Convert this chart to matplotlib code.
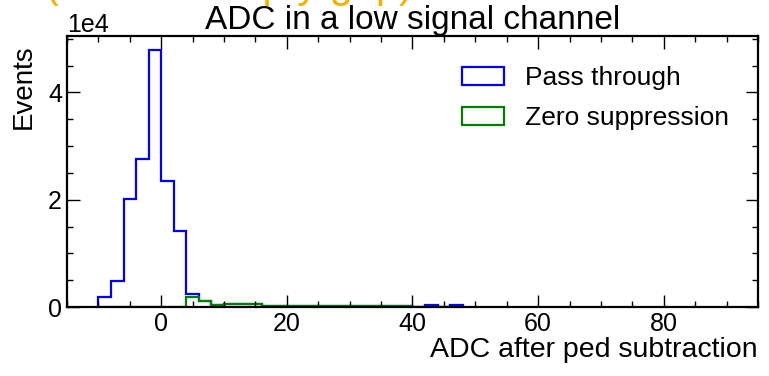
import numpy as np
import matplotlib
matplotlib.use('Agg')
import matplotlib.pyplot as plt
from matplotlib.ticker import MultipleLocator
from matplotlib.patches import Patch

plt.rcParams['font.family'] = ['Liberation Sans', 'DejaVu Sans']

# bin edges (width 2 ADC) and counts
bin_edges = np.arange(-10, 50, 2)
pass_counts = [1900, 4900, 20100, 27600, 47900, 23500, 14200, 2400,
               1100, 350, 550, 550, 550, 250, 250, 250, 250, 250,
               250, 250, 250, 250, 250, 250, 250, 0, 300, 0, 300]
zs_counts = [0, 0, 0, 0, 0, 0, 0, 1900,
             1100, 350, 550, 550, 550, 250, 250, 250, 250, 250,
             250, 250, 250, 250, 250, 250, 250, 0, 0, 0, 0]
labels = ['Pass through', 'Zero suppression']
colors = ['#0000ff', '#008000']

fig = plt.figure(figsize=(7.69, 3.76), dpi=100)
ax = fig.add_axes([0.0871, 0.1835, 0.8986, 0.7208])

ax.stairs(pass_counts, bin_edges, color=colors[0], lw=1.6)
ax.stairs(zs_counts, bin_edges, color=colors[1], lw=1.6)

ax.set_xlim(-15, 95)
ax.set_ylim(0, 5.05e4)
ax.xaxis.set_major_locator(MultipleLocator(20))
ax.xaxis.set_minor_locator(MultipleLocator(5))
ax.yaxis.set_major_locator(MultipleLocator(2e4))
ax.yaxis.set_minor_locator(MultipleLocator(0.5e4))
ax.ticklabel_format(axis='y', style='sci', scilimits=(0, 0))
ax.yaxis.get_offset_text().set_fontsize(18)

ax.tick_params(which='both', direction='in', top=True, right=True, labelsize=18)
ax.tick_params(which='major', length=9, width=1)
ax.tick_params(which='minor', length=4.5, width=1)
for s in ax.spines.values():
    s.set_linewidth(1.6)

ax.set_title('ADC in a low signal channel', fontsize=24, pad=4)
ax.set_xlabel('ADC after ped subtraction', fontsize=20.5, loc='right', labelpad=1)
ax.set_ylabel('Events', fontsize=20, loc='top', labelpad=8)
ax.yaxis.label.set_position((0, 0.97))

handles = [Patch(facecolor='none', edgecolor=c, lw=1.6) for c in colors]
ax.legend(handles, labels, loc='upper left', frameon=False, fontsize=19,
          handlelength=1.6, handleheight=0.68, handletextpad=0.8,
          labelspacing=0.62, borderpad=0.3,
          bbox_to_anchor=(441 / 769, 1 - 45 / 376), bbox_transform=fig.transFigure)

# orange caption that is cut off at the top edge
fig.text(0.058, 1 + 3 / 376, '(ADC of empty gap)', color='#f5b000',
         fontsize=30, ha='left', va='baseline')

fig.savefig('out.png', dpi=100)
